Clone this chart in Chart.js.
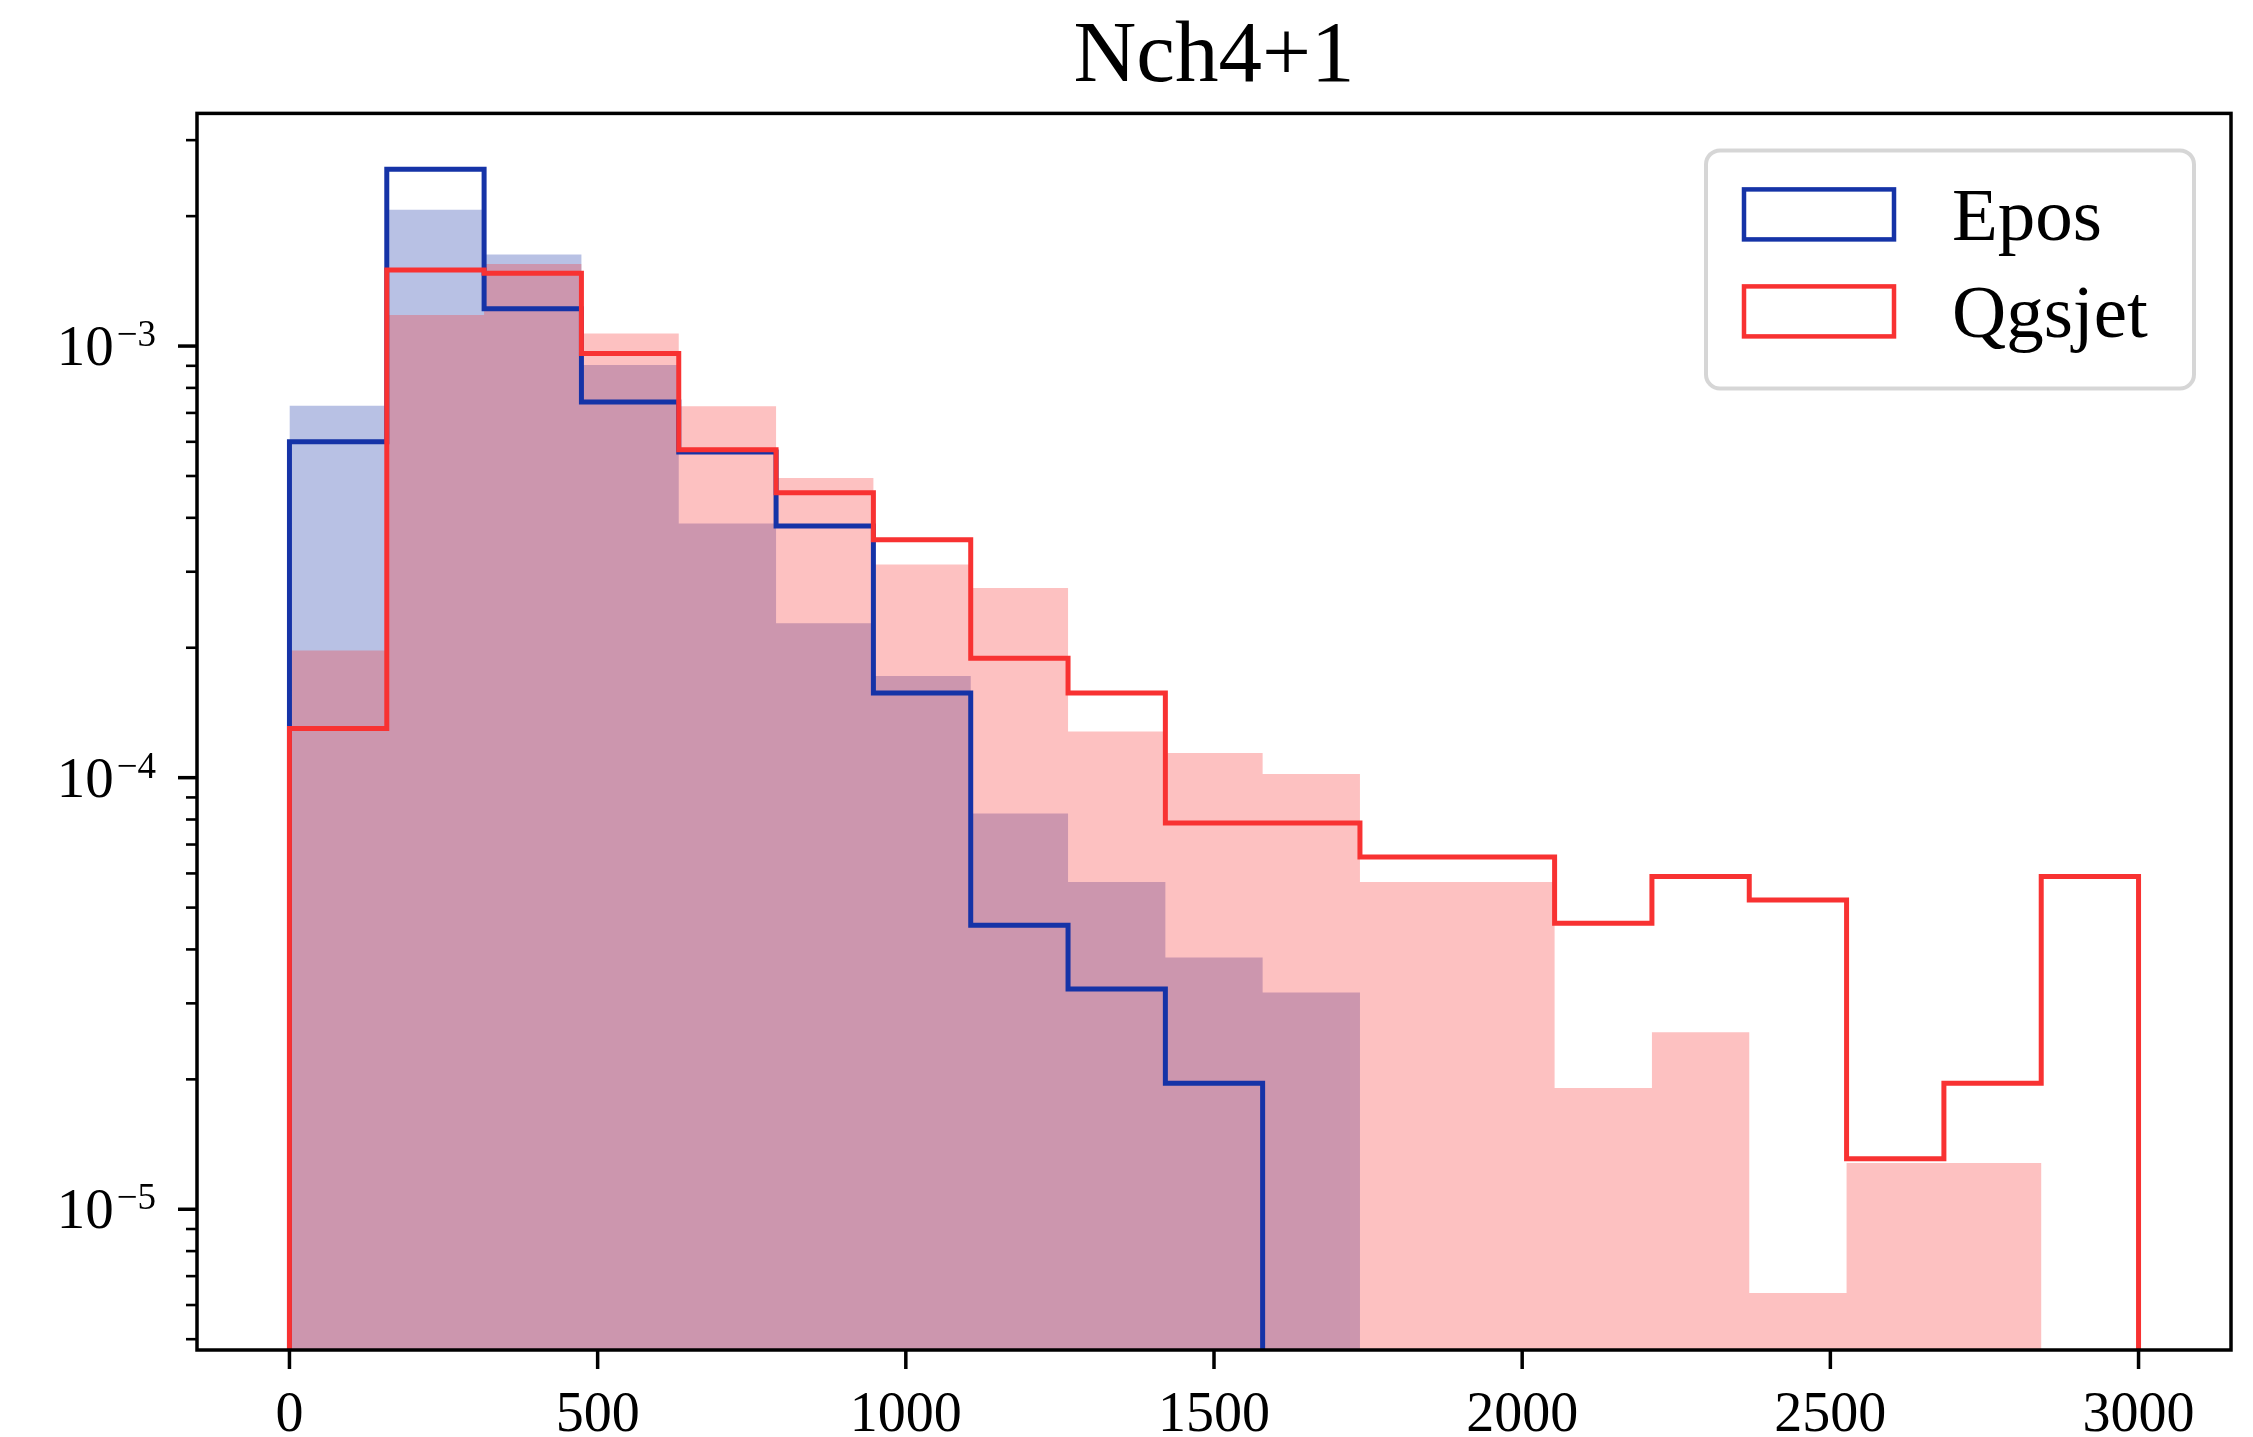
<!DOCTYPE html>
<html>
<head>
<meta charset="utf-8">
<title>Nch4+1</title>
<script src="https://cdn.jsdelivr.net/npm/chart.js@4.4.1/dist/chart.umd.min.js"></script>
<style>
  html, body { margin: 0; padding: 0; background: #fff; }
  #wrap { width: 2253px; height: 1437px; position: relative; }
</style>
</head>
<body>
<div id="wrap"><canvas id="histChart"></canvas></div>
<script>
// 19 bins between 0 and 3000
const binEdges = [0, 157.9, 315.8, 473.7, 631.6, 789.5, 947.4, 1105.3, 1263.2, 1421.1,
  1578.9, 1736.8, 1894.7, 2052.6, 2210.5, 2368.4, 2526.3, 2684.2, 2842.1, 3000];

// outlined histograms (step)
const eposStep = [6.0e-4, 2.57e-3, 1.22e-3, 7.42e-4, 5.68e-4, 3.83e-4, 1.57e-4, 4.55e-5, 3.24e-5, 1.96e-5,
  0, 0, 0, 0, 0, 0, 0, 0, 0];
const qgsjetStep = [1.30e-4, 1.50e-3, 1.475e-3, 9.61e-4, 5.75e-4, 4.57e-4, 3.56e-4, 1.89e-4, 1.57e-4, 7.85e-5,
  7.85e-5, 6.55e-5, 6.55e-5, 4.60e-5, 5.90e-5, 5.21e-5, 1.31e-5, 1.96e-5, 5.90e-5];

// filled histograms
const eposFilled = [7.27e-4, 2.07e-3, 1.63e-3, 9.04e-4, 3.88e-4, 2.28e-4, 1.72e-4, 8.26e-5, 5.73e-5, 3.83e-5,
  3.18e-5, 0, 0, 0, 0, 0, 0, 0, 0];
const qgsjetFilled = [1.97e-4, 1.18e-3, 1.55e-3, 1.07e-3, 7.25e-4, 4.95e-4, 3.12e-4, 2.75e-4, 1.28e-4, 1.14e-4,
  1.02e-4, 5.73e-5, 5.73e-5, 1.91e-5, 2.57e-5, 6.4e-6, 1.28e-5, 1.28e-5, 0];

const xTickValues = [0, 500, 1000, 1500, 2000, 2500, 3000];
const yTickExponents = [-5, -4, -3];

const FONT = "'Liberation Serif', 'DejaVu Serif', serif";
const BLUE = '#1533a7';
const RED = '#f83232';
const Y_MIN = 4.72e-6;
const Y_MAX = 3.46e-3;
const FLOOR = 1e-7; // empty bins go below the axis

// step outline points: rise at first edge, drop at last edge
function histPoints(values) {
  const pts = [{ x: binEdges[0], y: FLOOR }];
  values.forEach((v, i) => pts.push({ x: binEdges[i], y: v > 0 ? v : FLOOR }));
  const last = values[values.length - 1];
  pts.push({ x: binEdges[values.length], y: last > 0 ? last : FLOOR });
  pts.push({ x: binEdges[values.length], y: FLOOR });
  return pts;
}

function roundRect(ctx, x, y, w, h, r) {
  ctx.beginPath();
  ctx.moveTo(x + r, y);
  ctx.arcTo(x + w, y, x + w, y + h, r);
  ctx.arcTo(x + w, y + h, x, y + h, r);
  ctx.arcTo(x, y + h, x, y, r);
  ctx.arcTo(x, y, x + w, y, r);
  ctx.closePath();
}

const isPow10 = v => Math.abs(Math.log10(v) - Math.round(Math.log10(v))) < 1e-9;

// spines, tick marks and 10^n labels
const axesDecor = {
  id: 'axesDecor',
  afterDraw(chart) {
    const { ctx, chartArea: a } = chart;
    const x = chart.scales.x, y = chart.scales.y;
    ctx.save();
    ctx.strokeStyle = '#000';
    ctx.fillStyle = '#000';
    ctx.lineCap = 'butt';

    ctx.lineWidth = 3.5;
    x.ticks.forEach(t => {
      const px = x.getPixelForValue(t.value);
      ctx.beginPath();
      ctx.moveTo(px, a.bottom);
      ctx.lineTo(px, a.bottom + 19);
      ctx.stroke();
    });

    y.ticks.forEach(t => {
      const py = y.getPixelForValue(t.value);
      const major = isPow10(t.value);
      ctx.lineWidth = major ? 3.5 : 2.6;
      ctx.beginPath();
      ctx.moveTo(a.left - (major ? 19 : 11), py);
      ctx.lineTo(a.left, py);
      ctx.stroke();
    });

    ctx.lineWidth = 3.5;
    ctx.strokeRect(a.left, a.top, a.right - a.left, a.bottom - a.top);

    ctx.textAlign = 'left';
    ctx.textBaseline = 'alphabetic';
    yTickExponents.forEach(e => {
      const py = y.getPixelForValue(Math.pow(10, e));
      const sup = '\u2212' + Math.abs(e);
      ctx.font = '37px ' + FONT;
      const wSup = ctx.measureText(sup).width;
      ctx.font = '57px ' + FONT;
      const wBase = ctx.measureText('10').width;
      const right = a.left - 41;
      ctx.fillText('10', right - wSup - 3 - wBase, py + 19);
      ctx.font = '37px ' + FONT;
      ctx.fillText(sup, right - wSup, py);
    });
    ctx.restore();
  }
};

// framed legend inside the axes, top right
const legendBox = {
  id: 'legendBox',
  afterDraw(chart) {
    const { ctx, chartArea: a } = chart;
    const items = chart.data.datasets.filter(d => d.inLegend).sort((p, q) => q.order - p.order);
    const x0 = a.right - 525, y0 = a.top + 37, w = 488, h = 238;
    ctx.save();
    roundRect(ctx, x0, y0, w, h, 14);
    ctx.fillStyle = 'rgba(255,255,255,0.8)';
    ctx.fill();
    ctx.lineWidth = 4;
    ctx.strokeStyle = 'rgba(204,204,204,0.8)';
    ctx.stroke();

    ctx.font = '75px ' + FONT;
    ctx.textAlign = 'left';
    ctx.textBaseline = 'alphabetic';
    items.forEach((d, i) => {
      const cy = y0 + 64 + i * 97;
      ctx.lineWidth = 4.5;
      ctx.strokeStyle = d.borderColor;
      ctx.strokeRect(x0 + 38, cy - 25, 150, 50);
      ctx.fillStyle = '#000';
      ctx.fillText(d.label, x0 + 246, cy + 26);
    });
    ctx.restore();
  }
};

const config = {
  type: 'line',
  data: {
    datasets: [
      {
        label: 'Qgsjet',
        inLegend: true,
        data: histPoints(qgsjetStep),
        stepped: 'before',
        borderColor: RED,
        borderWidth: 5,
        borderJoinStyle: 'miter',
        pointRadius: 0,
        fill: false,
        order: 1,
      },
      {
        label: 'Epos',
        inLegend: true,
        data: histPoints(eposStep),
        stepped: 'before',
        borderColor: BLUE,
        borderWidth: 5,
        borderJoinStyle: 'miter',
        pointRadius: 0,
        fill: false,
        order: 2,
      },
      {
        label: 'Qgsjet filled',
        data: histPoints(qgsjetFilled),
        stepped: 'before',
        borderColor: 'transparent',
        borderWidth: 0,
        backgroundColor: 'rgba(248, 50, 50, 0.3)',
        pointRadius: 0,
        fill: 'start',
        order: 3,
      },
      {
        label: 'Epos filled',
        data: histPoints(eposFilled),
        stepped: 'before',
        borderColor: 'transparent',
        borderWidth: 0,
        backgroundColor: 'rgba(21, 51, 167, 0.3)',
        pointRadius: 0,
        fill: 'start',
        order: 4,
      },
    ],
  },
  options: {
    responsive: true,
    maintainAspectRatio: false,
    animation: false,
    devicePixelRatio: 1,
    events: [],
    layout: { padding: { top: 0, right: 22, bottom: 0, left: 0 } },
    plugins: {
      legend: { display: false },
      tooltip: { enabled: false },
      title: {
        display: true,
        fullSize: false,
        text: 'Nch4+1',
        color: '#000',
        font: { family: FONT, size: 87, weight: 'normal', lineHeight: 1.2 },
        padding: { top: 6, bottom: 3 },
      },
    },
    scales: {
      x: {
        type: 'linear',
        min: -150,
        max: 3150,
        grid: { display: false },
        border: { display: false },
        afterBuildTicks: s => { s.ticks = xTickValues.map(v => ({ value: v })); },
        afterFit: s => { s.height = 87; },
        ticks: {
          color: '#000',
          font: { family: FONT, size: 56 },
          padding: 25,
          maxRotation: 0,
          autoSkip: false,
          callback: v => String(v),
        },
      },
      y: {
        type: 'logarithmic',
        min: Y_MIN,
        max: Y_MAX,
        grid: { display: false },
        border: { display: false },
        ticks: { display: false },
        afterBuildTicks: s => {
          const ticks = [];
          for (let e = -6; e <= -3; e++) {
            for (let m = 1; m <= 9; m++) {
              const v = m * Math.pow(10, e);
              if (v >= s.min && v <= s.max) ticks.push({ value: v });
            }
          }
          s.ticks = ticks;
        },
        afterFit: s => { s.width = 197; },
      },
    },
  },
  plugins: [axesDecor, legendBox],
};

const histChart = new Chart(document.getElementById('histChart'), config);
</script>
</body>
</html>
